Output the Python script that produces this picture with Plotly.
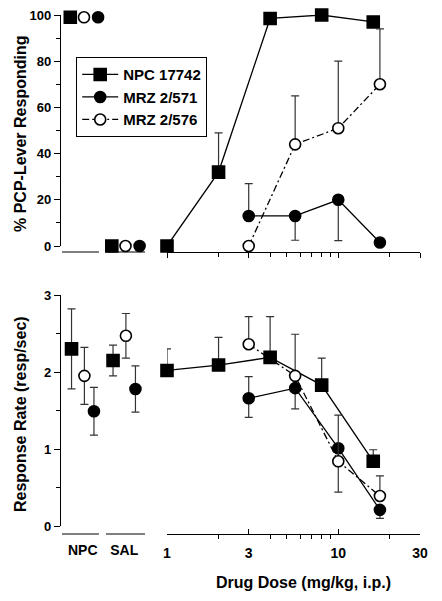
import math
import plotly.graph_objects as go

# ---------------- data ----------------
series_names = ["NPC 17742", "MRZ 2/571", "MRZ 2/576"]
control_categories = ["NPC", "SAL"]

# doses (mg/kg)
doses_npc = [1, 2, 4, 8, 16]
doses_mrz = [3, 5.6, 10, 17.5]

# % PCP-lever responding
pcp_ctrl_npc = [99, 0]
pcp_ctrl_571 = [99, 0]
pcp_ctrl_576 = [99, 0]

pcp_npc = [0, 32, 98.5, 100, 97]
pcp_npc_plus = [0, 17, 0, 0, 0]
pcp_npc_minus = [0, 0, 0, 0, 0]

pcp_571 = [13, 13, 20, 1.5]
pcp_571_plus = [14, 0, 0, 0]
pcp_571_minus = [0, 10.5, 17.7, 0]

pcp_576 = [0, 44, 51, 70]
pcp_576_plus = [0, 21, 29, 24]
pcp_576_minus = [0, 0, 0, 0]

# response rate (resp/sec)
rate_ctrl_npc = [2.30, 2.15]
rate_ctrl_npc_err = [0.52, 0.20]
rate_ctrl_571 = [1.49, 1.78]
rate_ctrl_571_err = [0.31, 0.30]
rate_ctrl_576 = [1.95, 2.47]
rate_ctrl_576_err = [0.37, 0.29]

rate_npc = [2.02, 2.09, 2.19, 1.83, 0.84]
rate_npc_plus = [0.28, 0.36, 0.53, 0.35, 0.15]
rate_npc_minus = [0, 0, 0, 0, 0]

rate_571 = [1.66, 1.79, 1.01, 0.21]
rate_571_plus = [0.28, 0, 0, 0]
rate_571_minus = [0.25, 0.27, 0.57, 0.11]

rate_576 = [2.36, 1.95, 0.84, 0.39]
rate_576_plus = [0.36, 0.54, 0.60, 0.26]
rate_576_minus = [0, 0, 0, 0]

log_major = [1, 3, 10, 30]
log_minor = [2, 4, 5, 6, 7, 8, 9, 20]
pcp_ticks = [0, 20, 40, 60, 80, 100]
rate_ticks = [0, 1, 2, 3]

# ---------------- styling / layout helpers ----------------
PAGE_W, PAGE_H = 442, 601
BODY = 8  # default page body margin
W, H = PAGE_W - 2 * BODY, PAGE_H - 2 * BODY
FONT = "Liberation Sans, Arial, Helvetica, sans-serif"


def px_x(p):
    return (p - BODY) / W


def px_y(p):
    return 1 - (p - BODY) / H


styles = {
    "NPC 17742": dict(symbol="square", color="black", lc="black", size=12, dash="solid",
                      off_top=0.20, off_bot=0.23),
    "MRZ 2/571": dict(symbol="circle", color="black", lc="black", size=11, dash="solid",
                      off_top=0.87, off_bot=0.77),
    "MRZ 2/576": dict(symbol="circle", color="white", lc="black", size=11, dash="7px,3px,2px,3px",
                      off_top=0.53, off_bot=0.54),
}

data = {
    "NPC 17742": dict(doses=doses_npc, pcp=pcp_npc, pp=pcp_npc_plus, pm=pcp_npc_minus,
                      rate=rate_npc, rp=rate_npc_plus, rm=rate_npc_minus,
                      pcp_ctrl=pcp_ctrl_npc, rate_ctrl=rate_ctrl_npc, rate_ctrl_err=rate_ctrl_npc_err),
    "MRZ 2/571": dict(doses=doses_mrz, pcp=pcp_571, pp=pcp_571_plus, pm=pcp_571_minus,
                      rate=rate_571, rp=rate_571_plus, rm=rate_571_minus,
                      pcp_ctrl=pcp_ctrl_571, rate_ctrl=rate_ctrl_571, rate_ctrl_err=rate_ctrl_571_err),
    "MRZ 2/576": dict(doses=doses_mrz, pcp=pcp_576, pp=pcp_576_plus, pm=pcp_576_minus,
                      rate=rate_576, rp=rate_576_plus, rm=rate_576_minus,
                      pcp_ctrl=pcp_ctrl_576, rate_ctrl=rate_ctrl_576, rate_ctrl_err=rate_ctrl_576_err),
}

ERR_COLOR = "#333333"


def err(plus, minus):
    return dict(type="data", symmetric=False, array=plus, arrayminus=minus,
                color=ERR_COLOR, thickness=1.2, width=4)


fig = go.Figure()

for name in series_names:
    s = styles[name]
    d = data[name]
    marker = dict(symbol=s["symbol"], size=s["size"], color=s["color"],
                  line=dict(color=s["lc"], width=1.6))
    line = dict(color="black", width=1.3, dash=s["dash"])
    # top: doses
    fig.add_trace(go.Scatter(x=d["doses"], y=d["pcp"], mode="lines+markers", name=name,
                             marker=marker, line=line, error_y=err(d["pp"], d["pm"]),
                             xaxis="x2", yaxis="y", cliponaxis=False, showlegend=True))
    # bottom: doses
    fig.add_trace(go.Scatter(x=d["doses"], y=d["rate"], mode="lines+markers", name=name,
                             marker=marker, line=line, error_y=err(d["rp"], d["rm"]),
                             xaxis="x4", yaxis="y2", cliponaxis=False, showlegend=False))
    # top: controls
    fig.add_trace(go.Scatter(x=[i + s["off_top"] for i in range(len(control_categories))],
                             y=d["pcp_ctrl"], mode="markers", name=name, marker=marker,
                             xaxis="x", yaxis="y", cliponaxis=False, showlegend=False))
    # bottom: controls
    fig.add_trace(go.Scatter(x=[i + s["off_bot"] for i in range(len(control_categories))],
                             y=d["rate_ctrl"], mode="markers", name=name, marker=marker,
                             error_y=dict(type="data", array=d["rate_ctrl_err"], color=ERR_COLOR,
                                          thickness=1.2, width=4),
                             xaxis="x3", yaxis="y2", cliponaxis=False, showlegend=False))

ctrl_dom = [px_x(62), px_x(145)]
log_dom = [px_x(167), px_x(420)]
top_x_pos = px_y(252)
bot_x_pos = px_y(534)
tickfont_x = dict(family=FONT, size=14, color="black", weight="bold")
tickfont_y = dict(family=FONT, size=13, color="black", weight="bold")

common_ctrl = dict(domain=ctrl_dom, range=[0, 2], anchor="free", showline=False, showgrid=False,
                   zeroline=False, ticks="", fixedrange=True, automargin=False,
                   ticklabeloverflow="allow")
common_log = dict(domain=log_dom, type="log", range=[0, math.log10(30)], anchor="free",
                  showline=True, linecolor="black", linewidth=1.2, showgrid=False, zeroline=False,
                  tickmode="array", tickvals=log_major, ticktext=[str(v) for v in log_major],
                  ticklen=5, tickwidth=1.2, tickcolor="black", automargin=False,
                  ticklabeloverflow="allow",
                  minor=dict(tickmode="array", tickvals=log_minor, ticklen=4, tickwidth=1.1,
                             tickcolor="black", showgrid=False))
common_y = dict(anchor="free", position=px_x(60), automargin=False, ticklabeloverflow="allow",
                showline=True, linecolor="black", linewidth=1.2, showgrid=False, zeroline=False,
                tickmode="array", ticks="outside", ticklen=6, tickwidth=1.2,
                tickcolor="black", tickfont=tickfont_y)

fig.update_layout(
    template="none",
    width=W, height=H, autosize=False,
    margin=dict(l=0, r=0, t=0, b=0, pad=0),
    paper_bgcolor="white", plot_bgcolor="rgba(0,0,0,0)",
    font=dict(family=FONT, color="black", weight="bold"),
    showlegend=True,
    xaxis=dict(**common_ctrl, position=top_x_pos, showticklabels=False),
    xaxis2=dict(**common_log, position=top_x_pos, ticks="outside", showticklabels=False),
    xaxis3=dict(**common_ctrl, position=bot_x_pos, tickmode="array", tickvals=[0.5, 1.5],
                ticktext=control_categories, showticklabels=True, tickfont=tickfont_x,
                ticklabelstandoff=6),
    xaxis4=dict(**common_log, position=bot_x_pos, ticks="inside", showticklabels=True,
                tickfont=tickfont_x, ticklabelstandoff=6),
    yaxis=dict(**common_y, domain=[px_y(246), px_y(15)], range=[0, 100], tickvals=pcp_ticks,
               minor=dict(dtick=10, tick0=0, ticks="outside", ticklen=4, tickwidth=1.1,
                          tickcolor="black", showgrid=False)),
    yaxis2=dict(**common_y, domain=[px_y(526), px_y(295)], range=[0, 3], tickvals=rate_ticks,
                minor=dict(dtick=0.5, tick0=0, ticks="outside", ticklen=4, tickwidth=1.1,
                           tickcolor="black", showgrid=False)),
    legend=dict(x=px_x(76), y=px_y(57), xanchor="left", yanchor="top",
                bordercolor="black", borderwidth=1.2, bgcolor="white",
                font=dict(family=FONT, size=15, color="black", weight="bold"),
                itemwidth=36, tracegroupgap=0),
)

# detached control-axis segments
for yref_pos in (top_x_pos, bot_x_pos):
    for x0, x1 in ((0.0, 0.89), (1.06, 2.0)):
        fig.add_shape(type="line", xref="x", yref="paper", x0=x0, x1=x1,
                      y0=yref_pos, y1=yref_pos, line=dict(color="black", width=1.2))

title_font = dict(family=FONT, size=16, color="black", weight="bold")
fig.add_annotation(text="% PCP-Lever Responding", xref="paper", yref="paper",
                   x=px_x(20), y=px_y(134), textangle=-90, showarrow=False,
                   font=title_font, xanchor="center", yanchor="middle")
fig.add_annotation(text="Response Rate (resp/sec)", xref="paper", yref="paper",
                   x=px_x(20), y=px_y(414), textangle=-90, showarrow=False,
                   font=title_font, xanchor="center", yanchor="middle")
fig.add_annotation(text="Drug Dose (mg/kg, i.p.)", xref="paper", yref="paper",
                   x=px_x(303), y=px_y(582), showarrow=False,
                   font=title_font, xanchor="center", yanchor="middle")

fig.write_html("out.html")
